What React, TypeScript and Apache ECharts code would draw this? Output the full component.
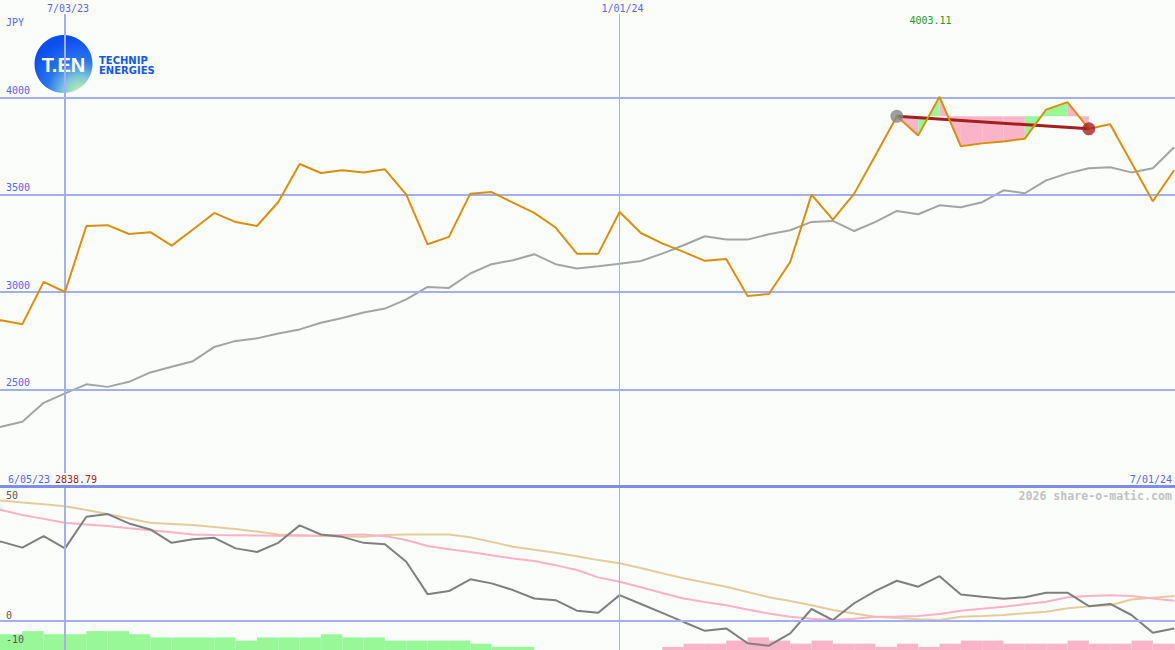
import React, { useEffect, useRef } from 'react';
import * as echarts from 'echarts';

const dates = [
  '6/05/23', '6/12/23', '6/19/23', '6/26/23', '7/03/23', '7/10/23', '7/17/23', '7/24/23', '7/31/23', '8/07/23',
  '8/14/23', '8/21/23', '8/28/23', '9/04/23', '9/11/23', '9/18/23', '9/25/23', '10/02/23', '10/09/23', '10/16/23',
  '10/23/23', '10/30/23', '11/06/23', '11/13/23', '11/20/23', '11/27/23', '12/04/23', '12/11/23', '12/18/23', '12/25/23',
  '1/01/24', '1/08/24', '1/15/24', '1/22/24', '1/29/24', '2/05/24', '2/12/24', '2/19/24', '2/26/24', '3/04/24',
  '3/11/24', '3/18/24', '3/25/24', '4/01/24', '4/08/24', '4/15/24', '4/22/24', '4/29/24', '5/06/24', '5/13/24',
  '5/20/24', '5/27/24', '6/03/24', '6/10/24', '6/17/24', '6/24/24', '7/01/24',
];

const closePrice = [
  2838.79, 2856, 2836, 3053, 3001, 3340, 3344, 3299, 3308, 3239,
  3322, 3407, 3360, 3340, 3463, 3658, 3612, 3626, 3615, 3631,
  3501, 3246, 3284, 3506, 3514, 3460, 3407, 3332, 3198, 3198,
  3412, 3304, 3251, 3207, 3161, 3171, 2981, 2991, 3155, 3501,
  3373, 3506, 3703, 3903, 3805, 4003.11, 3749, 3764, 3774, 3788,
  3937, 3976, 3839, 3862, 3664, 3467, 3626,
];

const movingAverage = [
  2290, 2309, 2335, 2432, 2481, 2527, 2514, 2540, 2588, 2617,
  2646, 2719, 2750, 2763, 2788, 2809, 2843, 2868, 2896, 2916,
  2963, 3027, 3022, 3096, 3144, 3164, 3195, 3144, 3122, 3133,
  3146, 3160, 3198, 3241, 3287, 3270, 3270, 3297, 3318, 3361,
  3366, 3314, 3361, 3417, 3400, 3446, 3436, 3462, 3523, 3508,
  3574, 3610, 3636, 3641, 3615, 3636, 3744,
];

const momentum = [
  35, 33.0, 30.5, 35.3, 30.2, 43.4, 44.5, 40.6, 38.1, 32.5,
  34.0, 34.6, 30.2, 28.7, 32.5, 39.8, 36.0, 35.0, 32.5, 31.9,
  24.6, 11.1, 12.4, 17.3, 15.6, 12.8, 9.3, 8.6, 4.2, 3.3,
  10.7, 7.0, 3.3, -0.5, -4.2, -3.2, -9.4, -10.4, -5.3, 4.9,
  0.3, 7.3, 12.5, 16.7, 14.2, 18.6, 11.0, 10.0, 9.2, 9.8,
  11.7, 11.7, 6.1, 7.0, 2.4, -5.0, -3.2,
];

const signalFast = [
  47.5, 46.2, 44.1, 42.5, 40.9, 40.2, 39.5, 38.6, 37.8, 36.9,
  36.0, 35.8, 35.7, 35.6, 35.5, 35.5, 35.6, 35.8, 36.0, 35.3,
  33.7, 31.2, 29.8, 28.7, 27.3, 26.0, 24.9, 23.2, 21.2, 18.1,
  16.3, 14.0, 11.6, 9.3, 7.8, 6.5, 4.7, 3.0, 1.7, 0.8,
  0.3, 0.8, 1.7, 1.8, 2.0, 2.8, 4.2, 5.0, 5.8, 6.9,
  7.9, 9.8, 10.3, 10.6, 10.3, 9.3, 8.3,
];

const signalSlow = [
  51.0, 50.2, 49.3, 48.6, 47.8, 46.2, 44.5, 42.7, 40.9, 40.4,
  39.9, 39.1, 38.3, 37.2, 36.0, 35.7, 35.4, 35.2, 35.0, 35.8,
  36.0, 36.0, 36.0, 34.8, 32.9, 30.9, 29.6, 28.4, 26.9, 25.3,
  24.0, 22.0, 19.8, 17.7, 16.0, 14.2, 12.0, 9.8, 8.2, 6.5,
  4.5, 3.0, 1.7, 1.1, 0.6, 0.3, 1.7, 2.0, 2.4, 3.1,
  3.8, 5.2, 6.0, 6.5, 8.9, 9.6, 10.3,
];

// signed weekly histogram: positive = green, negative = pink
const histogram = [
  5, 5, 6, 5, 5, 6, 6, 5, 4, 4,
  4, 4, 3, 4, 4, 4, 5, 4, 4, 3,
  3, 3, 3, 2, 1, 1, 0, 0, 0, 0,
  0, 0, -1, -2, -2, -3, -4, -3, -2, -3,
  -2, -2, -1, -2, -1, -2, -3, -3, -2, -2,
  -2, -3, -2, -2, -3, -2, -2,
];

const trendStart = 43;
const trendEnd = 52;
const trendSegmentDirections = ['down', 'up', 'down', 'down', 'down', 'down', 'up', 'up', 'down'];

const priceTicks = [2500, 3000, 3500, 4000];
const lowerTicks = [50, 0, -10];
const markedDates = ['7/03/23', '1/01/24'];
const currency = 'JPY';
const watermark = '2026 share-o-matic.com';
const logoLines = ['TECHNIP', 'ENERGIES'];

const BG = '#fbfdfb';
const GRID_BLUE = '#a2b0f0';
const LABEL_BLUE = '#5566ee';
const MONO = '"DejaVu Sans Mono", monospace';
const PINK = '#f9b4c9';
const GREEN = '#98f898';

// visible week-index window of the time axis
const X_MIN = 0.952;
const X_MAX = 56.04;

const pairs = (arr: number[]) => arr.map((v, i) => [i, v]);

function buildOption() {
  const level = closePrice[trendStart];
  const markedIdx = markedDates.map((d) => dates.indexOf(d));
  const fillData = trendSegmentDirections.map((d, k) => [
    trendStart + k,
    closePrice[trendStart + k],
    closePrice[trendStart + k + 1],
    d === 'up' ? 1 : 0,
  ]);
  const trendLine = [
    [trendStart, closePrice[trendStart]],
    [trendEnd, closePrice[trendEnd]],
  ];

  const vLineData = [
    { xAxis: markedIdx[0], lineStyle: { width: 2 } },
    { xAxis: markedIdx[1], lineStyle: { width: 1 } },
  ];

  const markLineBase = {
    silent: true,
    symbol: ['none', 'none'],
    label: { show: false },
    emphasis: { disabled: true },
    animation: false,
    lineStyle: { type: 'solid', color: GRID_BLUE, width: 2 },
  };

  const xBase = {
    type: 'value', min: X_MIN, max: X_MAX,
    axisLine: { show: false }, axisTick: { show: false }, splitLine: { show: false },
  };

  return {
    animation: false,
    backgroundColor: BG,
    grid: [
      { left: 0, right: 0, top: 0, height: 487 },
      { left: 0, right: 0, top: 487, height: 163 },
      { left: 0, right: 0, top: 629, height: 21 },
    ],
    xAxis: [
      {
        ...xBase, gridIndex: 0, position: 'top', z: 10,
        axisLabel: {
          inside: true, margin: 0, customValues: markedIdx,
          formatter: (v: number) => dates[Math.round(v)],
          color: LABEL_BLUE, fontFamily: MONO, fontSize: 10,
          backgroundColor: BG, padding: [3, 1, 1, 7],
        },
      },
      { ...xBase, gridIndex: 1, axisLabel: { show: false } },
      { ...xBase, gridIndex: 2, axisLabel: { show: false } },
    ],
    yAxis: [
      {
        type: 'value', gridIndex: 0, min: 2000, max: 4500, z: 10,
        axisLine: { show: false }, axisTick: { show: false }, splitLine: { show: false },
        axisLabel: {
          inside: true, margin: 6, customValues: priceTicks, verticalAlign: 'bottom',
          formatter: (v: number) => String(v),
          color: LABEL_BLUE, fontFamily: MONO, fontSize: 10, padding: [0, 0, 2, 0],
        },
      },
      {
        type: 'value', gridIndex: 1, min: -12.2, max: 55.8, z: 10,
        axisLine: { show: false }, axisTick: { show: false }, splitLine: { show: false },
        axisLabel: {
          inside: true, margin: 6, customValues: lowerTicks, verticalAlign: 'bottom',
          formatter: (v: number) => String(v),
          color: '#555555', fontFamily: MONO, fontSize: 10,
        },
      },
      { type: 'value', gridIndex: 2, min: 0, max: 6.67, show: false },
    ],
    series: [
      {
        type: 'line', xAxisIndex: 0, yAxisIndex: 0, data: pairs(closePrice), z: 1, silent: true,
        symbol: 'none', lineStyle: { opacity: 0 },
        markLine: { ...markLineBase, data: [...priceTicks.map((t) => ({ yAxis: t })), ...vLineData] },
      },
      {
        type: 'line', xAxisIndex: 1, yAxisIndex: 1, data: pairs(momentum), z: 1, silent: true,
        symbol: 'none', lineStyle: { opacity: 0 },
        markLine: { ...markLineBase, data: [{ yAxis: 0 }, ...vLineData] },
      },
      {
        type: 'custom', xAxisIndex: 0, yAxisIndex: 0, z: 2, silent: true,
        data: fillData,
        encode: { x: 0, y: [1, 2] },
        renderItem: (_p: any, api: any) => {
          const i = api.value(0);
          const a = api.coord([i, api.value(1)]);
          const b = api.coord([i + 1, api.value(2)]);
          const la = api.coord([i, level]);
          const lb = api.coord([i + 1, level]);
          return {
            type: 'polygon',
            shape: { points: [a, b, lb, la] },
            style: { fill: api.value(3) === 1 ? GREEN : PINK, stroke: null },
          };
        },
      },
      {
        type: 'line', xAxisIndex: 0, yAxisIndex: 0, data: pairs(movingAverage), z: 3, silent: true,
        symbol: 'none', lineStyle: { color: '#a4a4a4', width: 2 },
      },
      {
        type: 'line', xAxisIndex: 0, yAxisIndex: 0, data: trendLine, z: 4, silent: true,
        symbol: 'none', lineStyle: { color: '#a31e1e', width: 3 },
      },
      {
        type: 'line', xAxisIndex: 0, yAxisIndex: 0, data: pairs(closePrice), z: 5, silent: true,
        symbol: 'none', lineStyle: { color: '#d8900a', width: 2 },
        markPoint: {
          silent: true,
          symbol: 'circle', symbolSize: 1,
          itemStyle: { color: 'rgba(0,0,0,0)' },
          data: [{ type: 'max', valueDim: 'y' }],
          label: {
            show: true, position: 'inside', offset: [-9, -76],
            formatter: (p: any) => Number(Array.isArray(p.value) ? p.value[1] : p.value).toFixed(2),
            color: '#2a962a', fontFamily: MONO, fontSize: 10,
          },
        },
      },
      {
        type: 'scatter', xAxisIndex: 0, yAxisIndex: 0, z: 6, silent: true,
        symbolSize: 13,
        data: [
          { value: [trendStart, closePrice[trendStart]], itemStyle: { color: '#848484' } },
          { value: [trendEnd, closePrice[trendEnd]], itemStyle: { color: '#a52222' } },
        ],
      },
      {
        type: 'custom', xAxisIndex: 2, yAxisIndex: 2, z: 2, silent: true,
        data: pairs(histogram),
        encode: { x: 0, y: 1 },
        renderItem: (_p: any, api: any) => {
          const i = api.value(0);
          const h = api.value(1);
          if (!h) return null;
          const base = api.coord([i, 0]);
          const top = api.coord([i, Math.abs(h)]);
          const w = api.coord([i + 1, 0])[0] - base[0];
          return {
            type: 'rect',
            shape: { x: base[0], y: top[1], width: w, height: base[1] - top[1] },
            style: { fill: h > 0 ? GREEN : PINK },
          };
        },
      },
      {
        type: 'line', xAxisIndex: 1, yAxisIndex: 1, data: pairs(signalSlow), z: 3, silent: true,
        symbol: 'none', lineStyle: { color: '#e4cd9c', width: 2 },
      },
      {
        type: 'line', xAxisIndex: 1, yAxisIndex: 1, data: pairs(signalFast), z: 3, silent: true,
        symbol: 'none', lineStyle: { color: '#f9b2c8', width: 2 },
      },
      {
        type: 'line', xAxisIndex: 1, yAxisIndex: 1, data: pairs(momentum), z: 4, silent: true,
        symbol: 'none', lineStyle: { color: '#7f7f7f', width: 2 },
      },
    ],
    graphic: [
      {
        type: 'line', z: 20, silent: true,
        shape: { x1: 0, y1: 486.5, x2: 1175, y2: 486.5 },
        style: { stroke: '#7f8fe9', lineWidth: 3 },
      },
      {
        type: 'text', z: 20, silent: true, x: 6, y: 22,
        style: { text: currency, fill: LABEL_BLUE, font: `10px ${MONO}`, textVerticalAlign: 'middle' },
      },
      {
        type: 'text', z: 20, silent: true, x: 8, y: 479,
        style: { text: dates[0], fill: LABEL_BLUE, font: `10px ${MONO}`, textVerticalAlign: 'middle' },
      },
      {
        type: 'text', z: 20, silent: true, x: 55, y: 479,
        style: {
          text: closePrice[0].toFixed(2), fill: '#a01c1c', font: `10px ${MONO}`,
          textVerticalAlign: 'middle', backgroundColor: BG, padding: [1, 0, 1, 0],
        },
      },
      {
        type: 'text', z: 20, silent: true, x: 1172, y: 479,
        style: {
          text: dates[dates.length - 1], fill: LABEL_BLUE, font: `10px ${MONO}`,
          textAlign: 'right', textVerticalAlign: 'middle',
        },
      },
      {
        type: 'text', z: 20, silent: true, x: 1172, y: 496,
        style: {
          text: watermark, fill: '#c2c2c2', font: `bold 11.6px ${MONO}`,
          textAlign: 'right', textVerticalAlign: 'middle',
        },
      },
      {
        type: 'group', z: 20, silent: true,
        children: [
          {
            type: 'circle',
            shape: { cx: 63.5, cy: 64, r: 29 },
            style: {
              fill: new echarts.graphic.RadialGradient(0.78, 1.0, 0.95, [
                { offset: 0, color: '#c8f5a0' },
                { offset: 0.3, color: '#7cc8d8' },
                { offset: 0.6, color: '#2a74ee' },
                { offset: 1, color: '#0a4ff0' },
              ]),
            },
          },
          {
            type: 'text', x: 63.5, y: 65,
            style: {
              text: 'T.EN', fill: '#ffffff', font: 'bold 20px "Liberation Sans", Arial, sans-serif',
              textAlign: 'center', textVerticalAlign: 'middle',
            },
          },
          {
            type: 'text', x: 99, y: 60.8,
            style: {
              text: logoLines[0], fill: '#1456ee',
              font: 'bold 10px "DejaVu Sans", sans-serif', textVerticalAlign: 'middle',
            },
          },
          {
            type: 'text', x: 99, y: 70.9,
            style: {
              text: logoLines[1], fill: '#1456ee',
              font: 'bold 10px "DejaVu Sans", sans-serif', textVerticalAlign: 'middle',
            },
          },
        ],
      },
    ],
  };
}

export default function App() {
  const ref = useRef<HTMLDivElement>(null);
  useEffect(() => {
    if (!ref.current) return;
    const chart = echarts.init(ref.current, null, { renderer: 'svg', width: 1175, height: 650 });
    chart.setOption(buildOption() as any);
    return () => chart.dispose();
  }, []);
  return (
    <div
      ref={ref}
      style={{ position: 'fixed', left: 0, top: 0, width: 1175, height: 650, background: BG }}
    />
  );
}
